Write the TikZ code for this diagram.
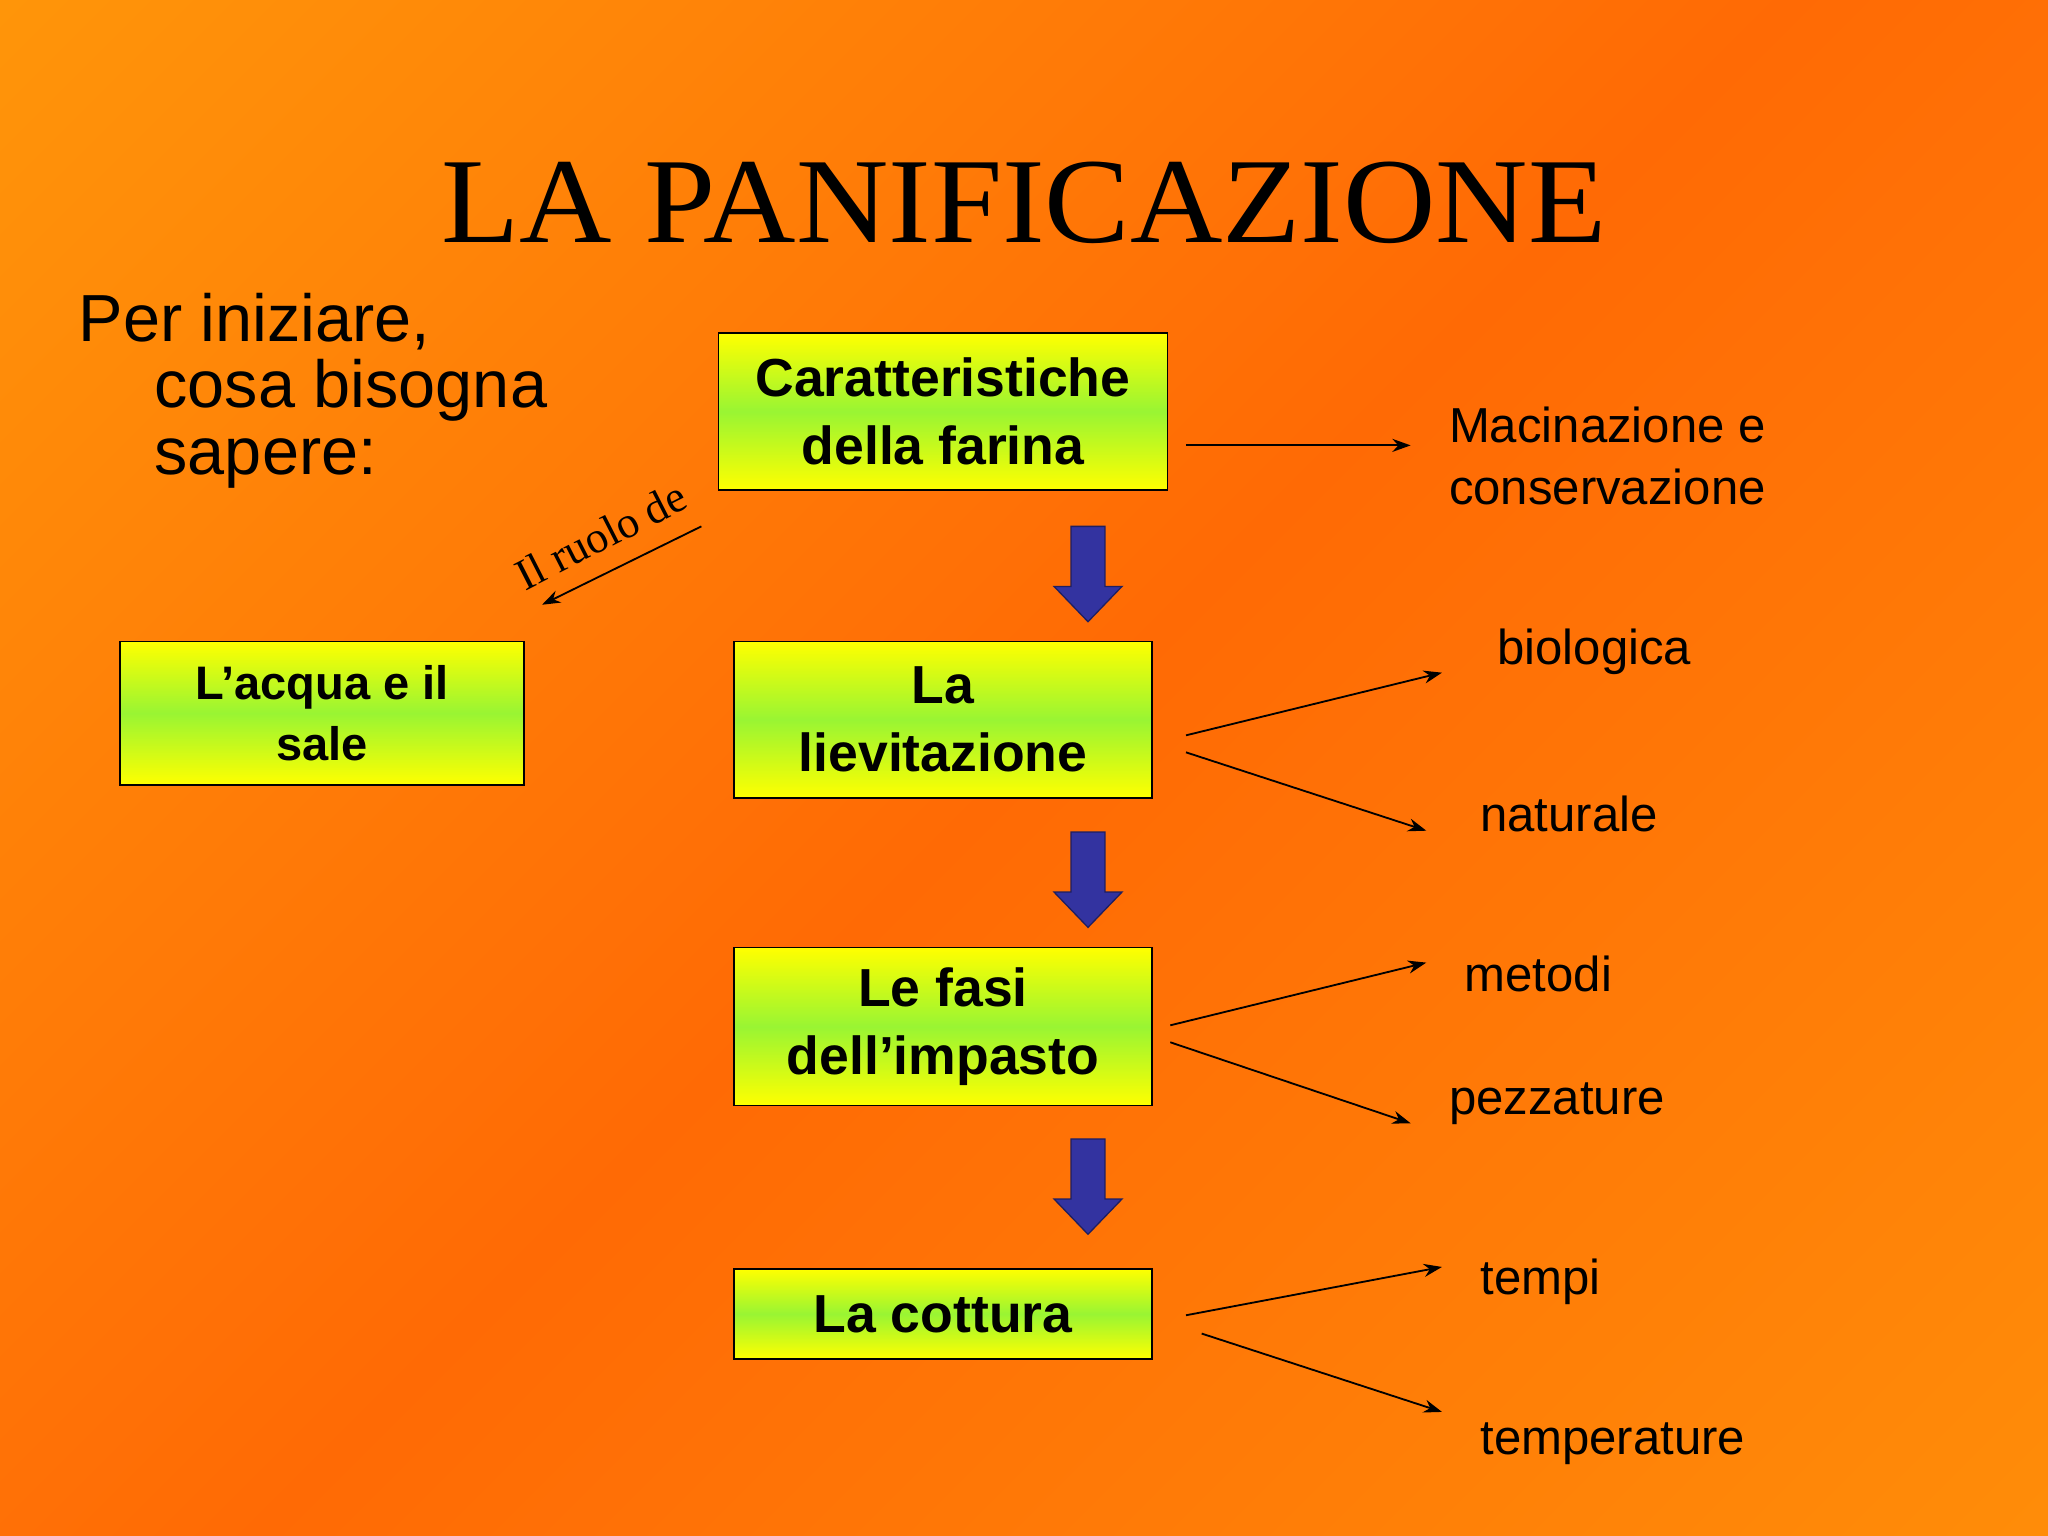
\documentclass[tikz,border=0pt]{standalone}
\usepackage{fontspec}
\setmainfont{Liberation Sans}
\newfontfamily\serifnm{Liberation Serif}
\usetikzlibrary{arrows.meta,shapes.arrows}
\definecolor{orL}{HTML}{FF9A0A}
\definecolor{orD}{HTML}{FF6A05}
\definecolor{boxY}{HTML}{FFFF00}
\definecolor{boxG}{HTML}{99F533}
\definecolor{blk}{HTML}{3333A0}
\tikzset{
 box/.style={draw=black,line width=0.6pt,top color=boxY,bottom color=boxY,middle color=boxG,align=center,font=\bfseries\fontsize{20.5}{26}\selectfont,inner sep=0pt},
 lbl/.style={anchor=west,align=left,font=\fontsize{18.8}{24}\selectfont,inner sep=0pt},
 thin arrow/.style={-{Stealth[length=7pt,width=5pt]},line width=0.7pt},
 blockarrow/.style={fill=blk,draw=blk!60!black,line width=0.5pt}
}
\begin{document}
\begin{tikzpicture}[x=0.5pt,y=-0.5pt]
\useasboundingbox (0,0) rectangle (1568,1176);
\shade[top color=orL,bottom color=orL!80!orD,middle color=orD,shading angle=45] (-400,-400) rectangle (1968,1576);
\clip (0,0) rectangle (1568,1176);
\node[font=\serifnm\fontsize{49}{50}\selectfont,yscale=0.95] (title) at (784,155) {LA PANIFICAZIONE};
\node[anchor=north west,align=left,font=\fontsize{25.5}{25.5}\selectfont,inner sep=0pt] (intro) at (60,224)
 {Per iniziare,\\\hspace*{29pt}cosa bisogna\\\hspace*{29pt}sapere:};
% boxes
\node[box,minimum width=172pt,minimum height=60pt] (car) at (722,315) {Caratteristiche\\della farina};
\node[box,minimum width=154.5pt,minimum height=55pt,font=\bfseries\fontsize{18}{23.5}\selectfont] (acq) at (246.5,546) {L’acqua e il\\sale};
\node[box,minimum width=160pt,minimum height=60pt] (lie) at (722,551) {La\\lievitazione};
\node[box,minimum width=160pt,minimum height=60.5pt] (fas) at (722,786) {Le fasi\\dell’impasto};
\node[box,minimum width=160pt,minimum height=34.5pt] (cot) at (722,1006) {La cottura};
% block arrows
\foreach \y/\n in {403/a,637/b,872/c}{
 \fill[blockarrow] (820,\y) -- (846,\y) -- (846,\y+46) -- (859,\y+46) -- (833,\y+73) -- (807,\y+46) -- (820,\y+46) -- cycle;
}
% labels
\node[lbl] (mac) at (1109,349) {Macinazione e\\conservazione};
\node[lbl] (bio) at (1146,499) {biologica};
\node[lbl] (nat) at (1133,623) {naturale};
\node[lbl] (met) at (1121,746) {metodi};
\node[lbl] (pez) at (1109,845) {pezzature};
\node[lbl] (tem) at (1133,981) {tempi};
\node[lbl] (tmp) at (1133,1105) {temperature};
\node[font=\serifnm\fontsize{17}{18}\selectfont,rotate=27] (ruolo) at (460,410) {Il ruolo de};
% arrow endpoints
\coordinate (s0) at (908,341); \coordinate (e0) at (1080,341);
\coordinate (s1) at (908,563); \coordinate (e1) at (1104,515);
\coordinate (s2) at (908,576); \coordinate (e2) at (1092,636);
\coordinate (s3) at (896,785); \coordinate (e3) at (1092,737);
\coordinate (s4) at (896,798); \coordinate (e4) at (1080,860);
\coordinate (s5) at (908,1007); \coordinate (e5) at (1104,970);
\coordinate (s6) at (920,1021); \coordinate (e6) at (1104,1081);
\coordinate (s7) at (537,403); \coordinate (e7) at (415,463);
\foreach \i in {0,...,7}{\draw[thin arrow] (s\i) -- (e\i);}
\end{tikzpicture}
\end{document}
